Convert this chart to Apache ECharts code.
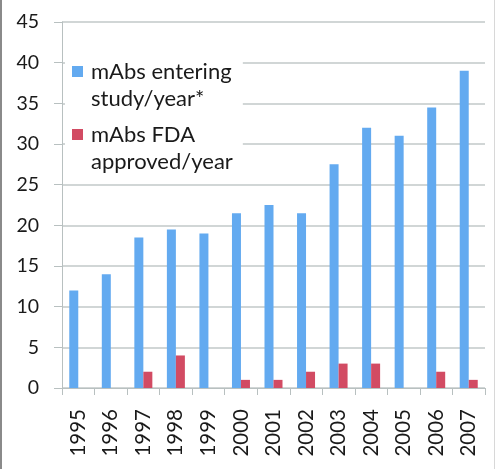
<!DOCTYPE html>
<html><head><meta charset="utf-8">
<script src="https://cdn.jsdelivr.net/npm/echarts@6/dist/echarts.min.js"></script>
<style>html,body{margin:0;padding:0;background:#fff}#c{width:498px;height:469px}</style>
</head><body><div id="c"></div>
<script>
const years = ['1995','1996','1997','1998','1999','2000','2001','2002','2003','2004','2005','2006','2007'];
const entering = [12, 14, 18.5, 19.5, 19, 21.5, 22.5, 21.5, 27.5, 32, 31, 34.5, 39];
const approved = [null, null, 2, 4, null, 1, 1, 2, 3, 3, null, 2, 1];
const seriesNames = ['mAbs entering\nstudy/year*', 'mAbs FDA\napproved/year'];
const yTicks = [0, 5, 10, 15, 20, 25, 30, 35, 40, 45];

// legend square sits on the first text line: a tall icon box with the square at its top
const LH = 27;
const iconPath = 'path://M0,0L0.001,0M0,' + (LH/2 - 5.5) + 'h11v11h-11zM0,' + (2*LH) + 'L0.001,' + (2*LH);

const chart = echarts.init(document.getElementById('c'));
chart.setOption({
  animation: false,
  backgroundColor: '#fff',
  textStyle: {fontFamily: 'Lato, "Open Sans", sans-serif'},
  grid: {left: 62, right: 13, top: 22, bottom: 81, containLabel: false},
  legend: {
    show: true, orient: 'vertical', left: 65, top: 55, z: 10,
    backgroundColor: '#fff', padding: [3, 10, 6, 7],
    itemWidth: 11, itemHeight: 2*LH, itemGap: 9, icon: iconPath,
    textStyle: {fontSize: 22, color: '#1a1a1a', lineHeight: LH, padding: [0,0,0,3]},
    data: seriesNames
  },
  xAxis: {
    type: 'category', data: years,
    axisLine: {lineStyle: {color: '#b8c0c0', width: 1}},
    axisTick: {show: true, length: 7, alignWithLabel: false, lineStyle: {color: '#b8c0c0'}},
    axisLabel: {rotate: 90, fontSize: 20.5, color: '#1a1a1a', margin: 21}
  },
  yAxis: {
    type: 'value', min: 0, max: 45, interval: 5,
    axisLine: {show: true, lineStyle: {color: '#b8c0c0'}},
    axisTick: {show: true, length: 8, inside: false, lineStyle: {color: '#b8c0c0'}},
    splitLine: {lineStyle: {color: '#c2c9c9', width: 1.5}},
    axisLabel: {fontSize: 19.5, color: '#1a1a1a', margin: 23,
      formatter: v => yTicks.includes(v) ? String(v) : ''}
  },
  series: [
    {name: seriesNames[0], type: 'bar', data: entering, barWidth: 9, barGap: '0%',
     itemStyle: {color: '#63aaf0'}},
    {name: seriesNames[1], type: 'bar', data: approved, barWidth: 9, barGap: '0%',
     itemStyle: {color: '#d24b63'}}
  ],
  graphic: [
    {type: 'rect', left: 0, top: 0, shape: {width: 2, height: 469}, style: {fill: '#8a8a8a'}, silent: true},
    {type: 'rect', left: 494, top: 0, shape: {width: 1, height: 469}, style: {fill: '#d8d8d8'}, silent: true}
  ]
});
</script></body></html>
